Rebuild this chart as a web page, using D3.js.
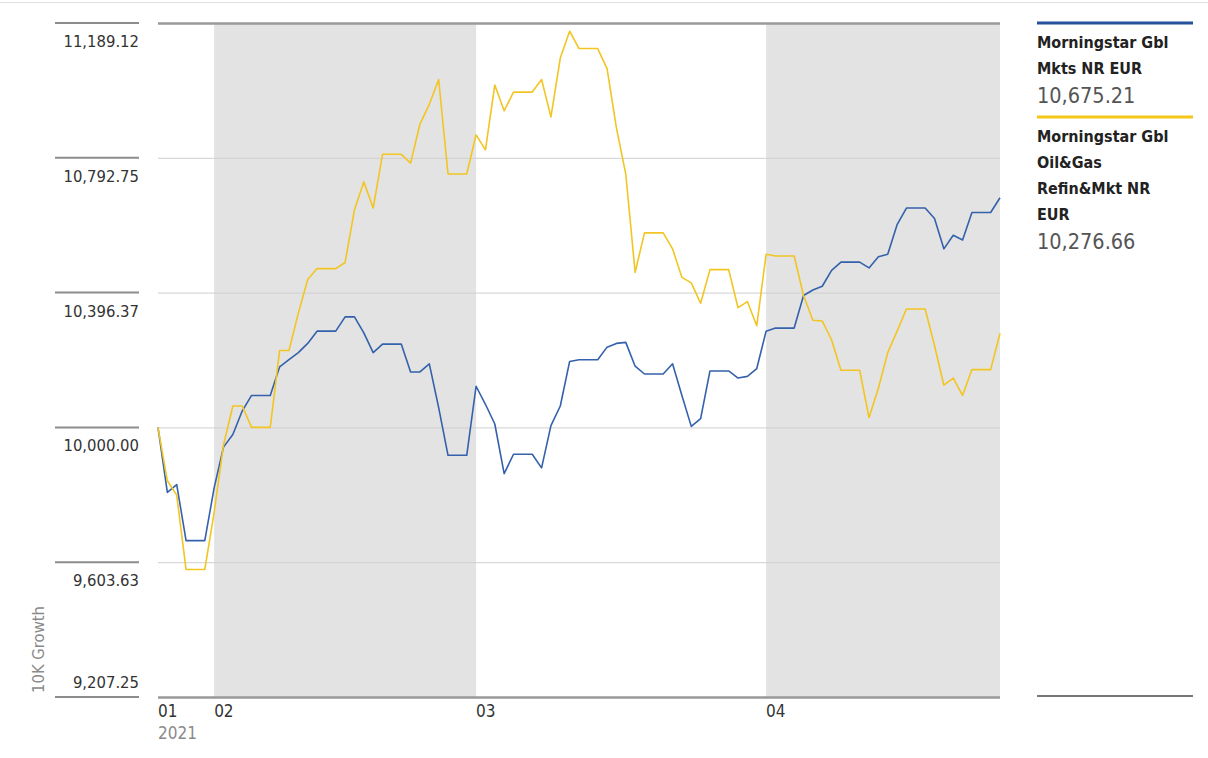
<!DOCTYPE html>
<html>
<head>
<meta charset="utf-8">
<script src="https://cdn.jsdelivr.net/npm/d3@7"></script>
<style>
  body { margin: 0; background: #fff; }
  svg text { font-family: "Liberation Sans Narrow", "DejaVu Sans Condensed", "Arial Narrow", sans-serif; }
</style>
</head>
<body>
<svg id="chart" width="1208" height="758"></svg>
<script>
// daily values from 2021-01-26 to 2021-04-26 (weekends carry Friday's value)
const startDate = '2021-01-26';

const gblMkts = [
  10000, 9809, 9832, 9667, 9667, 9667, 9822, 9942, 9979, 10048,
  10094, 10094, 10094, 10178, 10199, 10220, 10247, 10283, 10283, 10283,
  10325, 10325, 10278, 10220, 10245, 10245, 10245, 10163, 10163, 10187,
  10058, 9918, 9918, 9918, 10121, 10068, 10010, 9864, 9921, 9921,
  9921, 9881, 10005, 10063, 10194, 10199, 10199, 10199, 10236, 10247,
  10250, 10180, 10157, 10157, 10157, 10187, 10094, 10003, 10026, 10166,
  10166, 10166, 10145, 10150, 10173, 10283, 10292, 10292, 10292, 10388,
  10404, 10415, 10462, 10486, 10486, 10486, 10469, 10502, 10509, 10596,
  10645, 10645, 10645, 10614, 10525, 10565, 10551, 10632, 10632, 10632,
  10675.21
];

const oilGas = [
  10000, 9843, 9801, 9582, 9582, 9582, 9750, 9948, 10063, 10063,
  10000, 10000, 10000, 10226, 10226, 10336, 10435, 10467, 10467, 10467,
  10485, 10640, 10722, 10645, 10803, 10803, 10803, 10777, 10892, 10950,
  11023, 10745, 10745, 10745, 10860, 10816, 11007, 10931, 10986, 10986,
  10986, 11023, 10913, 11086, 11165, 11114, 11114, 11114, 11055, 10881,
  10745, 10456, 10572, 10572, 10572, 10525, 10441, 10425, 10365, 10464,
  10464, 10464, 10352, 10370, 10299, 10509, 10504, 10504, 10504, 10388,
  10315, 10313, 10257, 10168, 10168, 10168, 10029, 10115, 10220, 10283,
  10348, 10348, 10348, 10241, 10124, 10145, 10094, 10170, 10170, 10170,
  10276.66
];

const yTicks = [9207.25, 9603.63, 10000.00, 10396.37, 10792.75, 11189.12];
const monthTicks = ['2021-01-26', '2021-02-01', '2021-03-01', '2021-04-01'];
const monthLabels = ['01', '02', '03', '04'];
const shadedMonths = [['2021-02-01', '2021-03-01'], ['2021-04-01', '2021-04-26']];

const seriesNames = [
  ['Morningstar Gbl', 'Mkts NR EUR'],
  ['Morningstar Gbl', 'Oil&Gas', 'Refin&Mkt NR', 'EUR']
];
const seriesColors = ['#3461ab', '#f2c522'];
const legendColors = ['#24519a', '#f5c518'];

const parse = d3.utcParse('%Y-%m-%d');
const fmt = d3.format(',.2f');

const margin = { left: 158, right: 1000, top: 23, bottom: 697 };
const svg = d3.select('#chart');

const t0 = parse(startDate);
const dates = gblMkts.map((_, i) => d3.utcDay.offset(t0, i));

const x = d3.scaleUtc()
    .domain([dates[0], dates[dates.length - 1]])
    .range([margin.left, margin.right]);

const y = d3.scaleLinear()
    .domain([yTicks[0], yTicks[yTicks.length - 1]])
    .range([margin.bottom, margin.top]);

// thin rule across top of page
svg.append('line')
    .attr('x1', 0).attr('x2', 1208)
    .attr('y1', 2.5).attr('y2', 2.5)
    .attr('stroke', '#e0e0e0').attr('stroke-width', 1);

// shaded month bands
svg.append('g')
    .selectAll('rect')
    .data(shadedMonths)
    .join('rect')
    .attr('x', d => x(parse(d[0])))
    .attr('y', margin.top)
    .attr('width', d => x(parse(d[1])) - x(parse(d[0])))
    .attr('height', margin.bottom - margin.top)
    .attr('fill', '#e3e3e3');

// gridlines
const grid = svg.append('g')
    .attr('transform', `translate(${margin.left},0)`)
    .call(d3.axisLeft(y)
        .tickValues(yTicks)
        .tickSize(-(margin.right - margin.left))
        .tickFormat(''));
grid.select('.domain').remove();
grid.selectAll('.tick line')
    .attr('stroke', (d, i) => (i === 0 || i === yTicks.length - 1) ? '#999' : '#cfcfcf')
    .attr('stroke-width', (d, i) => (i === 0 || i === yTicks.length - 1) ? 2.5 : 1);

// y tick labels with short rule above each
const yl = svg.append('g')
    .selectAll('g')
    .data(yTicks)
    .join('g')
    .attr('transform', d => `translate(0,${y(d)})`);
yl.append('line')
    .attr('x1', 55).attr('x2', 139)
    .attr('stroke', '#8c8c8c').attr('stroke-width', 2);
yl.append('text')
    .attr('x', 139)
    .attr('y', (d, i) => i === 0 ? -9 : 24)
    .attr('text-anchor', 'end')
    .attr('font-size', 16.5)
    .attr('fill', '#333')
    .text(d => fmt(d));

// y axis title
svg.append('text')
    .attr('transform', 'translate(44,693) rotate(-90)')
    .attr('font-size', 16.5)
    .attr('fill', '#8a8a8a')
    .text('10K Growth');

// x tick labels
svg.append('g')
    .selectAll('text')
    .data(monthTicks)
    .join('text')
    .attr('x', d => x(parse(d)))
    .attr('y', 717)
    .attr('font-size', 17)
    .attr('fill', '#333')
    .text((d, i) => monthLabels[i]);
svg.append('text')
    .attr('x', margin.left)
    .attr('y', 739)
    .attr('font-size', 17)
    .attr('fill', '#8a8a8a')
    .text('2021');

// lines
const line = d3.line()
    .x((d, i) => x(dates[i]))
    .y(d => y(d));

svg.append('path')
    .datum(gblMkts)
    .attr('fill', 'none')
    .attr('stroke', seriesColors[0])
    .attr('stroke-width', 1.6)
    .attr('stroke-linejoin', 'round')
    .attr('d', line);

svg.append('path')
    .datum(oilGas)
    .attr('fill', 'none')
    .attr('stroke', seriesColors[1])
    .attr('stroke-width', 1.6)
    .attr('stroke-linejoin', 'round')
    .attr('d', line);

// legend
const lastVals = [gblMkts[gblMkts.length - 1], oilGas[oilGas.length - 1]];
const legendTops = [23, 117];
const lg = svg.append('g');
seriesNames.forEach((names, s) => {
    const top = legendTops[s];
    lg.append('line')
        .attr('x1', 1037).attr('x2', 1193)
        .attr('y1', top).attr('y2', top)
        .attr('stroke', legendColors[s]).attr('stroke-width', 3);
    names.forEach((n, k) => {
        lg.append('text')
            .attr('x', 1037)
            .attr('y', top + 25 + k * 26)
            .attr('font-size', 16)
            .attr('font-weight', 'bold')
            .attr('fill', '#222')
            .text(n);
    });
    lg.append('text')
        .attr('x', 1037)
        .attr('y', top + 25 + (names.length - 1) * 26 + 29)
        .attr('font-size', 21.5)
        .attr('fill', '#555')
        .text(fmt(lastVals[s]));
});

lg.append('line')
    .attr('x1', 1037).attr('x2', 1193)
    .attr('y1', 696).attr('y2', 696)
    .attr('stroke', '#777').attr('stroke-width', 2);
</script>
</body>
</html>
